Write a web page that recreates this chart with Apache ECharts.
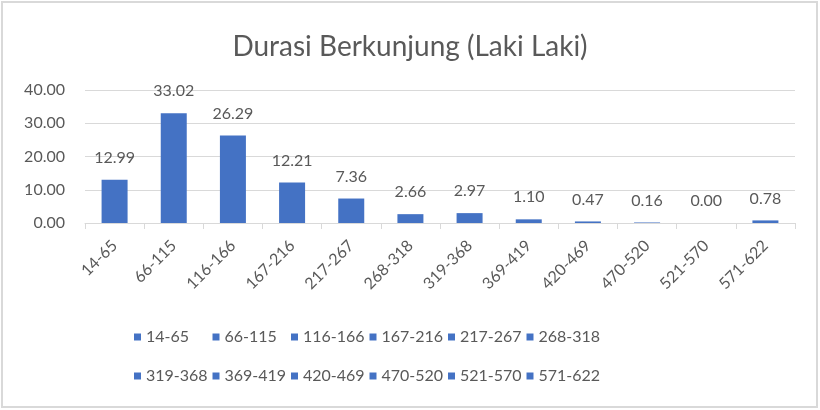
<!DOCTYPE html>
<html>
<head>
<meta charset="utf-8">
<script src="https://cdn.jsdelivr.net/npm/echarts@6/dist/echarts.min.js"></script>
<style>
  body { margin: 0; background: #fff; }
  #main { width: 820px; height: 410px; }
</style>
</head>
<body>
<div id="main"></div>
<script>
var categories = ['14-65','66-115','116-166','167-216','217-267','268-318','319-368','369-419','420-469','470-520','521-570','571-622'];
var values = [12.99, 33.02, 26.29, 12.21, 7.36, 2.66, 2.97, 1.10, 0.47, 0.16, 0.00, 0.78];
var yTicks = { min: 0, max: 40, interval: 10 };
var barColor = '#4472C4';
var textColor = '#595959';
var lineColor = '#d9d9d9';
var font = 'Lato';

var myChart = echarts.init(document.getElementById('main'));

// one series per category so the legend lists each range
var series = categories.map(function (name, i) {
  var d = categories.map(function (c, j) { return j === i ? values[i] : '-'; });
  return {
    name: name,
    type: 'bar',
    stack: 'all',
    barWidth: 26,
    itemStyle: { color: barColor },
    label: {
      show: true,
      position: 'top',
      distance: 14,
      fontFamily: font,
      fontSize: 16,
      color: textColor,
      formatter: function (p) { return p.value.toFixed(2); }
    },
    data: d
  };
});

// excel lays the legend out on a fixed grid, 6 per row
var legends = categories.map(function (name, i) {
  return {
    data: [name],
    left: 134 + (i % 6) * 78.5,
    top: i < 6 ? 329 : 368,
    padding: 0,
    itemWidth: 7,
    itemHeight: 7,
    icon: 'rect',
    selectedMode: false,
    textStyle: { fontFamily: font, fontSize: 16, color: textColor }
  };
});

var option = {
  animation: false,
  title: {
    text: 'Durasi Berkunjung (Laki Laki)',
    left: 'center',
    top: 28,
    textStyle: { fontFamily: font, fontSize: 28, fontWeight: 'normal', color: textColor }
  },
  graphic: [{
    type: 'rect',
    shape: { x: 2, y: 2, width: 815, height: 405 },
    style: { fill: 'none', stroke: lineColor, lineWidth: 2 },
    silent: true
  }],
  legend: legends,
  grid: { left: 85, right: 25, top: 90, bottom: 187 },
  xAxis: {
    type: 'category',
    data: categories,
    axisLine: { lineStyle: { color: lineColor, width: 1 } },
    axisTick: { show: true, alignWithLabel: false, length: 6, lineStyle: { color: lineColor } },
    axisLabel: { interval: 0, rotate: 45, margin: 20, fontFamily: font, fontSize: 16, color: textColor }
  },
  yAxis: {
    type: 'value',
    min: yTicks.min,
    max: yTicks.max,
    interval: yTicks.interval,
    axisLine: { show: false },
    axisTick: { show: false },
    splitLine: { lineStyle: { color: lineColor, width: 1 } },
    axisLabel: {
      margin: 20,
      fontFamily: font,
      fontSize: 16,
      color: textColor,
      formatter: function (v) { return v.toFixed(2); }
    }
  },
  series: series
};

myChart.setOption(option);
</script>
</body>
</html>
